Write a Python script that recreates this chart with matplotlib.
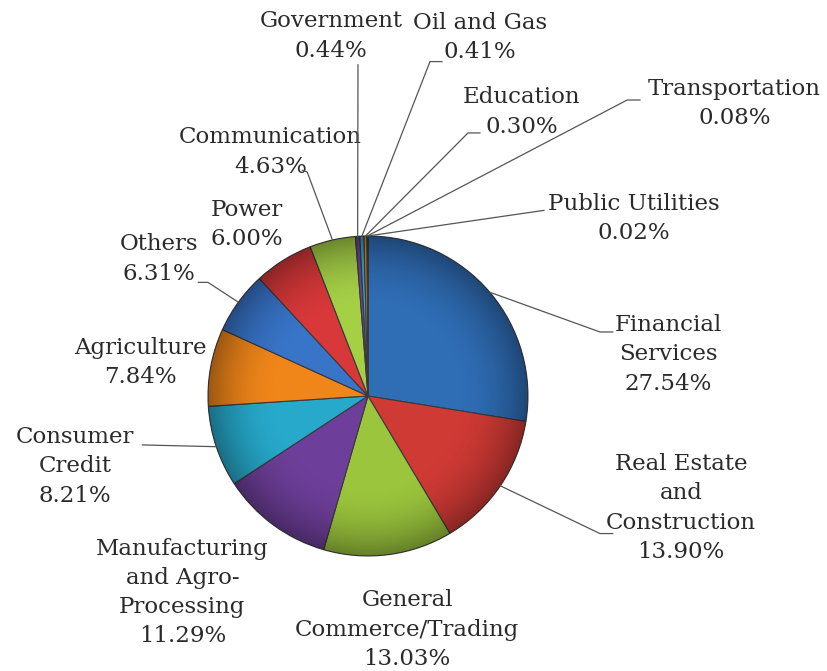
import numpy as np
import matplotlib.pyplot as plt
from matplotlib.patches import Circle

# Loan distribution by sector (percent)
sectors = ['Financial\nServices', 'Real Estate\nand\nConstruction', 'General\nCommerce/Trading',
           'Manufacturing\nand Agro-\nProcessing', 'Consumer\nCredit', 'Agriculture', 'Others',
           'Power', 'Communication', 'Government', 'Oil and Gas', 'Education',
           'Transportation', 'Public Utilities']
shares = [27.54, 13.90, 13.03, 11.29, 8.21, 7.84, 6.31, 6.00, 4.63, 0.44, 0.41, 0.30, 0.08, 0.02]
colors = ['#2f6db5', '#d03a35', '#9bc53d', '#6e3f9a', '#27a9cb', '#f0861a', '#3874c8',
          '#d8383a', '#a5d046', '#6e3f9a', '#27a9cb', '#f0861a', '#2f6db5', '#d03a35']

# label centres and leader-line anchors in pie-radius units (None = no leader line)
label_pos = [(1.875, 0.26), (1.956, -0.70), (0.244, -1.46), (-1.16, -1.23), (-1.83, -0.44),
             (-1.425, 0.21), (-1.306, 0.856), (-0.76, 1.07), (-0.61, 1.525), (-0.23, 2.25),
             (0.70, 2.24), (0.96, 1.775), (2.29, 1.83), (1.66, 1.11)]
leaders = [[(1.45, 0.40), (1.53, 0.40)], [(1.45, -0.86), (1.53, -0.86)], None, None,
           [(-1.41, -0.306)], None, [(-1.00, 0.71), (-1.06, 0.71)], None,
           [(-0.38, 1.40), (-0.41, 1.41)], [(-0.0625, 2.07)],
           [(0.3875, 2.09), (0.4625, 2.09)], [(0.625, 1.644), (0.70, 1.644)],
           [(1.62, 1.85), (1.70, 1.85)], [(1.03, 1.15), (1.10, 1.16)]]

plt.rcParams['font.family'] = ['DejaVu Serif']
fig = plt.figure(figsize=(8.27, 6.71), dpi=100)
ax = fig.add_axes([0, 0, 1, 1])

wedges, _ = ax.pie(shares, colors=colors, startangle=90, counterclock=False, radius=1,
                   wedgeprops=dict(edgecolor='#3a3a3a', linewidth=0.8))

# soft shading for a rounded look
n = 400
g = np.linspace(-1, 1, n)
xx, yy = np.meshgrid(g, g)
r = np.sqrt(xx ** 2 + yy ** 2)
shade = np.zeros((n, n, 4))
shade[..., 3] = np.clip((r - 0.55) / 0.45, 0, 1) ** 2 * 0.35
img = ax.imshow(shade, extent=(-1, 1, -1, 1), origin='lower', zorder=3)
img.set_clip_path(Circle((0, 0), 1, transform=ax.transData))

cum = np.cumsum([0] + shares[:-1])
for i, s in enumerate(shares):
    ang = np.deg2rad(90 - 3.6 * (cum[i] + s / 2))
    txt = '%s\n%.2f%%' % (sectors[i], s)
    ax.text(label_pos[i][0], label_pos[i][1], txt, ha='center', va='center',
            multialignment='center', fontsize=16.5, color='#2a2a2a', linespacing=1.42)
    if leaders[i] is not None:
        pts = [(np.cos(ang), np.sin(ang))] + leaders[i]
        ax.plot([p[0] for p in pts], [p[1] for p in pts], color='#555555', lw=0.9, zorder=4)

ax.set_xlim(-2.3, 2.869)
ax.set_ylim(-1.719, 2.475)
ax.set_aspect('equal')
ax.axis('off')
fig.savefig('out.png', dpi=100)
